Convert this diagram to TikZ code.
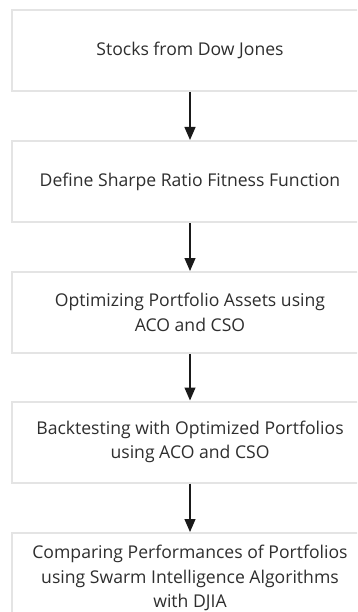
\documentclass[tikz,border=0pt]{standalone}
\usepackage{fontspec}
\setmainfont{Open Sans}
\usetikzlibrary{arrows.meta}
\definecolor{boxline}{HTML}{E4E4E4}
\definecolor{txt}{HTML}{2E2E2E}
\definecolor{arr}{HTML}{1A1A1A}
\tikzset{
  stepbox/.style={draw=boxline, line width=2pt, fill=white, minimum width=356pt, minimum height=81pt, inner sep=0pt, align=center, text=txt, font=\fontsize{17.6}{24.5}\selectfont},
  flow/.style={draw=arr, line width=1.2pt, -{Triangle[width=11pt,length=13pt]}}
}
\begin{document}
\begin{tikzpicture}[x=1pt,y=-1pt]
\useasboundingbox (0,0) rectangle (357,612);
\clip (0,0) rectangle (357,612);
\node[stepbox] (b1) at (190,50.5) {Stocks from Dow Jones};
\node[stepbox] (b2) at (190,181.5) {Define Sharpe Ratio Fitness Function};
\node[stepbox] (b3) at (190,312.5) {Optimizing Portfolio Assets using\\ACO and CSO};
\node[stepbox] (b4) at (190,442) {Backtesting with Optimized Portfolios\\using ACO and CSO};
\node[stepbox, minimum height=90pt] (b5) at (190,578) {Comparing Performances of Portfolios\\using Swarm Intelligence Algorithms\\with DJIA};
\draw[flow] (b1.south) -- (b2.north);
\draw[flow] (b2.south) -- (b3.north);
\draw[flow] (b3.south) -- (b4.north);
\draw[flow] (b4.south) -- (b5.north);
\end{tikzpicture}
\end{document}
